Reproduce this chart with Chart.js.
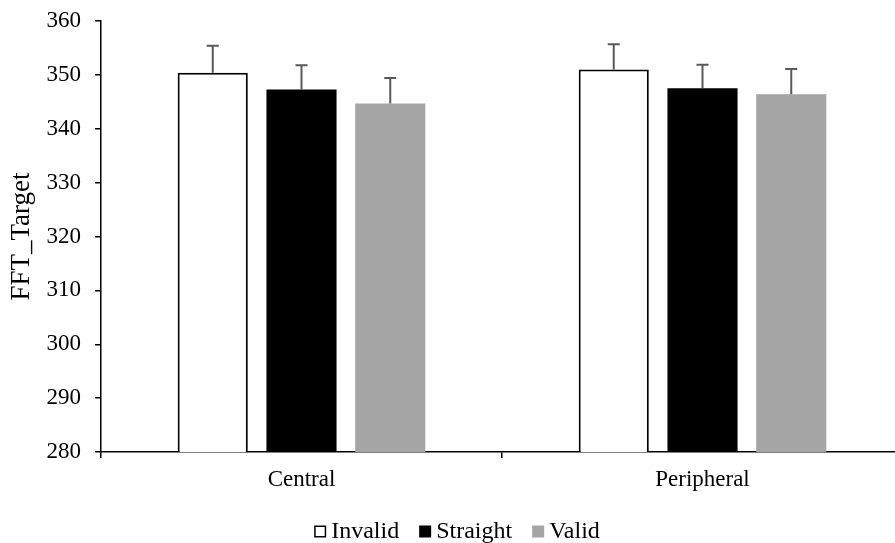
<!DOCTYPE html>
<html>
<head>
<meta charset="utf-8">
<style>
  html, body { margin: 0; padding: 0; background: #fff; overflow: hidden; }
  #wrap { width: 895px; height: 543px; overflow: hidden; }
</style>
</head>
<body>
<div id="wrap"><canvas id="myChart" width="903" height="543"></canvas></div>
<script src="https://cdn.jsdelivr.net/npm/chart.js"></script>
<script>
  // values
  const categories = ['Central', 'Peripheral'];
  const invalid = [350.4, 351.0];
  const straight = [347.3, 347.5];
  const valid = [344.7, 346.4];
  const invalidErr = [5.0, 4.7];
  const straightErr = [4.5, 4.4];
  const validErr = [4.7, 4.7];
  const yTicks = [280, 290, 300, 310, 320, 330, 340, 350, 360];

  const serif = 'Liberation Serif, Times New Roman, serif';

  // draws the upward error bars with a small cap
  const errorBars = {
    id: 'errorBars',
    afterDatasetsDraw(chart) {
      const ctx = chart.ctx;
      const y = chart.scales.y;
      chart.data.datasets.forEach((ds, i) => {
        const meta = chart.getDatasetMeta(i);
        meta.data.forEach((bar, j) => {
          const top = y.getPixelForValue(ds.data[j] + ds.err[j]);
          ctx.save();
          ctx.strokeStyle = '#595959';
          ctx.lineWidth = 2;
          ctx.beginPath();
          ctx.moveTo(bar.x, bar.y);
          ctx.lineTo(bar.x, top);
          ctx.moveTo(bar.x - 6, top);
          ctx.lineTo(bar.x + 6, top);
          ctx.stroke();
          ctx.restore();
        });
      });
    }
  };

  // legend with the box set close to its text, like the original
  const tightLegend = {
    id: 'tightLegend',
    afterDraw(chart) {
      const ctx = chart.ctx;
      const size = 12, gap = 5, spacing = 20;
      ctx.save();
      ctx.font = '24px ' + serif;
      const items = chart.data.datasets.map(ds => ({ ds, w: ctx.measureText(ds.label).width }));
      const total = items.reduce((s, it) => s + size + gap + it.w, 0) + spacing * (items.length - 1);
      let x = 457 - total / 2;
      const base = 537.5;
      items.forEach((it, i) => {
        ctx.fillStyle = it.ds.backgroundColor;
        ctx.fillRect(x, base - size, size, size);
        if (i === 0) {
          ctx.strokeStyle = '#000';
          ctx.lineWidth = 1.5;
          ctx.strokeRect(x + 0.75, base - size + 0.75, size - 1.5, size - 1.5);
        }
        x += size + gap;
        ctx.fillStyle = '#000';
        ctx.textBaseline = 'alphabetic';
        ctx.textAlign = 'left';
        ctx.fillText(it.ds.label, x, base);
        x += it.w + spacing;
      });
      ctx.restore();
    }
  };

  new Chart(document.getElementById('myChart'), {
    type: 'bar',
    data: {
      labels: categories,
      datasets: [
        { label: 'Invalid', data: invalid, err: invalidErr, backgroundColor: '#ffffff', borderColor: '#000000', borderWidth: 2 },
        { label: 'Straight', data: straight, err: straightErr, backgroundColor: '#000000', borderColor: '#000000', borderWidth: 0 },
        { label: 'Valid', data: valid, err: validErr, backgroundColor: '#a5a5a5', borderColor: '#a5a5a5', borderWidth: 0 }
      ]
    },
    options: {
      responsive: false,
      animation: false,
      categoryPercentage: 0.664,
      barPercentage: 0.79,
      layout: { padding: { top: 21, right: 0, left: 0, bottom: 41 } },
      plugins: {
        legend: { display: false },
        tooltip: { enabled: false }
      },
      scales: {
        x: {
          border: { color: '#000', width: 1.5 },
          grid: { drawOnChartArea: false, tickLength: 6, color: '#000', lineWidth: 1.5, offset: true },
          ticks: { color: '#000', font: { family: serif, size: 23 }, padding: 8 },
          afterFit(scale) { scale.height = 50; scale.paddingLeft = 0; scale.paddingRight = 0; }
        },
        y: {
          min: 280,
          max: 360,
          border: { color: '#000', width: 1.5 },
          afterBuildTicks(scale) { scale.ticks = yTicks.map(v => ({ value: v })); },
          grid: { drawOnChartArea: false, tickLength: 6, color: '#000', lineWidth: 1.5 },
          ticks: { color: '#000', font: { family: serif, size: 23 }, padding: 14 },
          title: { display: true, text: 'FFT_Target', color: '#000', font: { family: serif, size: 27 }, padding: { top: 6, bottom: 0 } },
          afterFit(scale) { scale.width = 101; scale.paddingTop = 0; scale.paddingBottom = 0; }
        }
      }
    },
    plugins: [errorBars, tightLegend]
  });
</script>
</body>
</html>
